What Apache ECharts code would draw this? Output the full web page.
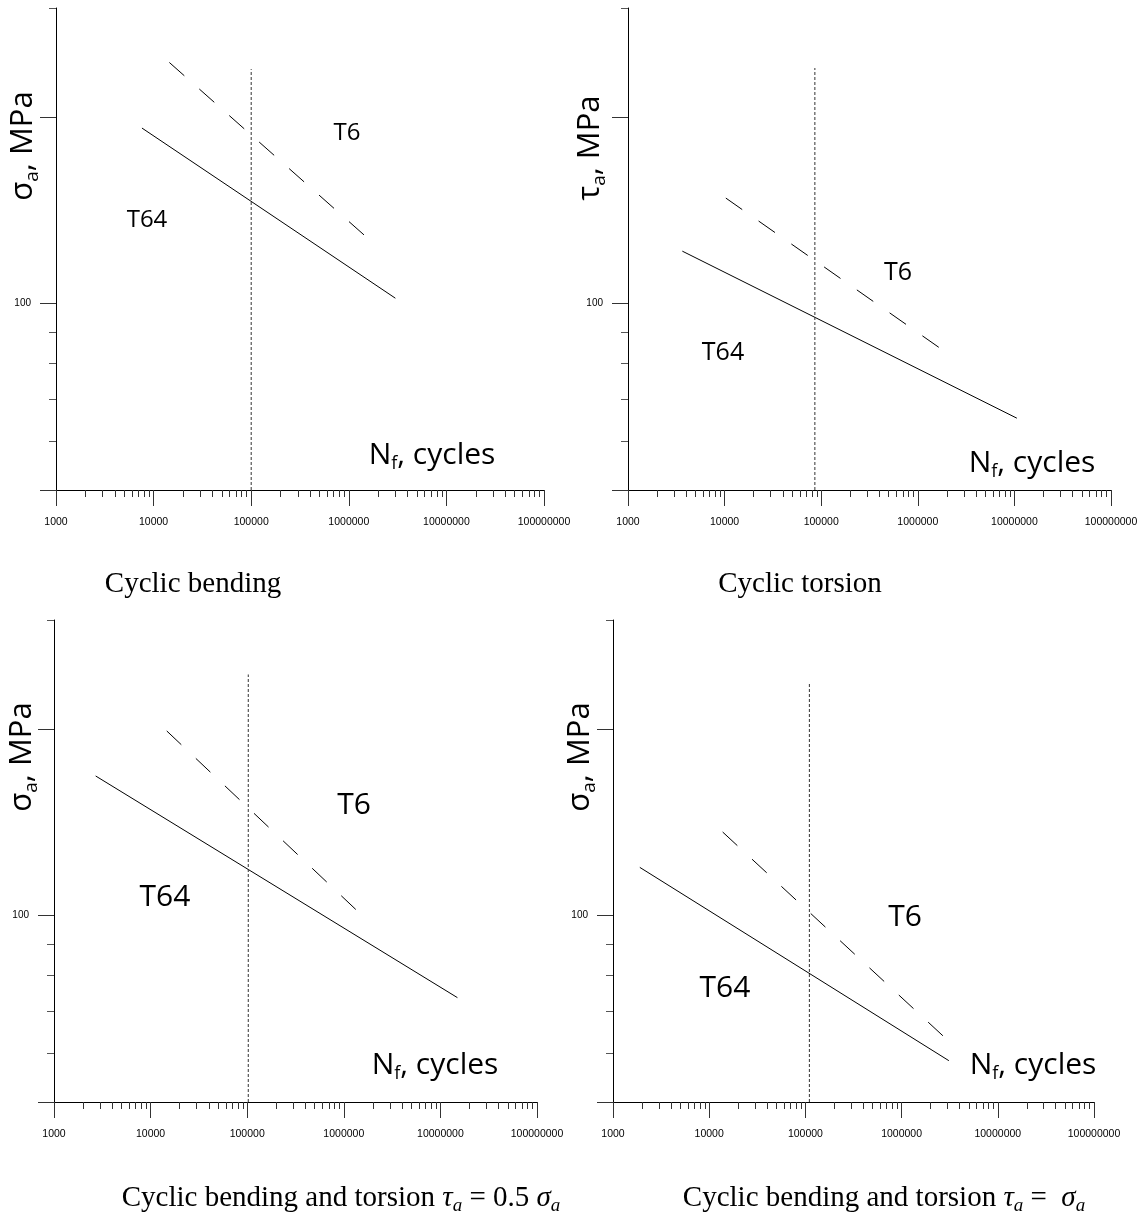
<!DOCTYPE html>
<html>
<head>
<meta charset="utf-8">
<title>S-N curves T6 / T64</title>
<script src="https://cdn.jsdelivr.net/npm/echarts@6/dist/echarts.min.js"></script>
<style>
  html, body { margin: 0; background: #fff; }
  #chart { width: 1141px; height: 1217px; }
</style>
</head>
<body>
<div id="chart"></div>
<script>
// axis ranges and ticks
const xMin = 1000, xMax = 100000000
const yMin = 50, yMax = 300
const xMajor = [1000, 10000, 100000, 1000000, 10000000, 100000000]
const xMantissa = [2, 3, 4, 5, 6, 7, 8, 9]
const yMajor = [50, 100, 200]
const yMinor = [60, 70, 80, 90, 300]
const yLabels = [100]

// one entry per panel: bending, torsion, bending+torsion 0.5, bending+torsion 1
const t64N = [[7600, 3000000], [3650, 10600000], [2700, 15000000], [1900, 3100000]]
const t64S = [[192, 102], [121.5, 65.3], [168, 73.7], [119.6, 58.3]]
const t6N = [[14500, 1700000], [10300, 1700000], [14700, 1450000], [13800, 2950000]]
const t6S = [[245, 126], [148, 84.7], [198.6, 101], [136.4, 63.1]]
const limitN = [100000, 86000, 102600, 110000]
const limitTop = [239, 240, 245, 237]

const yTitles = ['σ', 'τ', 'σ', 'σ']
const captions = [
  '{n|Cyclic bending}',
  '{n|Cyclic torsion}',
  '{n|Cyclic bending and torsion }{i|τ}{is|a}{n| = 0.5 }{i|σ}{is|a}',
  '{n|Cyclic bending and torsion }{i|τ}{is|a}{n| =  }{i|σ}{is|a}'
]

// layout (px)
const grids = [
  {left: 56, top: 8, width: 488, height: 482},
  {left: 628, top: 8, width: 483, height: 482},
  {left: 54, top: 620, width: 483, height: 482},
  {left: 613, top: 620, width: 481, height: 482}
]
const t64Pos = [[147, 220], [723, 353], [165, 897], [725, 988]]
const t6Pos = [[347, 133], [898, 273], [354, 805], [905, 917]]
const tagSize = [24, 25, 30, 30]
const nfPos = [[432, 455], [1032, 463], [435, 1065], [1033, 1065]]
const titlePos = [[23, 146], [590, 148], [22, 757], [580, 757]]
const capPos = [[193, 584], [800, 584], [341, 1198], [884, 1198]]

const xMinor = []
for (const d of xMajor.slice(0, -1)) for (const m of xMantissa) xMinor.push(d * m)

const sans = '"Open Sans", sans-serif'
const serif = '"Liberation Serif", serif'

const xAxis = [], yAxis = [], series = [], graphic = []

grids.forEach((g, i) => {
  const base = {type: 'log', logBase: 10, gridIndex: i, splitLine: {show: false}, minorTick: {show: false}}
  xAxis.push({
    ...base, min: xMin, max: xMax, position: 'bottom',
    axisLine: {onZero: false, lineStyle: {color: '#000', width: 1}},
    axisTick: {inside: false, length: 16, customValues: xMajor, lineStyle: {color: '#333'}},
    axisLabel: {customValues: xMajor, margin: 27, fontSize: 10.5, fontFamily: 'Liberation Sans', color: '#000',
      formatter: v => String(Math.round(v))}
  }, {
    ...base, min: xMin, max: xMax, position: 'bottom',
    axisLine: {show: false},
    axisTick: {inside: false, length: 7, customValues: xMinor, lineStyle: {color: '#333'}},
    axisLabel: {show: false}
  })
  yAxis.push({
    ...base, min: yMin, max: yMax, position: 'left',
    axisLine: {onZero: false, lineStyle: {color: '#000', width: 1}},
    axisTick: {inside: false, length: 16, customValues: yMajor, lineStyle: {color: '#333'}},
    axisLabel: {customValues: yLabels, margin: 25, fontSize: 10, fontFamily: 'Liberation Sans', color: '#000',
      formatter: v => String(Math.round(v))}
  }, {
    ...base, min: yMin, max: yMax, position: 'left',
    axisLine: {show: false},
    axisTick: {inside: false, length: 7, customValues: yMinor, lineStyle: {color: '#555'}},
    axisLabel: {show: false}
  })

  const common = {type: 'line', xAxisIndex: 2 * i, yAxisIndex: 2 * i, symbol: 'none', silent: true}
  series.push({
    ...common, name: 'T64',
    lineStyle: {color: '#000', width: 1},
    data: t64N[i].map((n, k) => [n, t64S[i][k]])
  }, {
    ...common, name: 'T6',
    lineStyle: {color: '#000', width: 1, type: [20, 20]},
    data: t6N[i].map((n, k) => [n, t6S[i][k]])
  }, {
    ...common, name: 'limit',
    lineStyle: {color: '#333', width: 1, type: [3, 2]},
    data: [[limitN[i], yMin], [limitN[i], limitTop[i]]]
  })

  const txt = (pos, text, rich, extra) => ({
    type: 'text', x: pos[0], y: pos[1], silent: true, ...extra,
    style: {text, rich, align: 'center', verticalAlign: 'middle', fill: '#000'}
  })
  const tag = {t: {fontSize: tagSize[i], fontFamily: sans, fill: '#000'}}
  graphic.push(
    txt(t64Pos[i], '{t|T64}', tag),
    txt(t6Pos[i], '{t|T6}', tag),
    txt(nfPos[i], '{m|N}{s|f}{m|, cycles}', {
      m: {fontSize: 30, fontFamily: sans, lineHeight: 36, fill: '#000'},
      s: {fontSize: 18, fontFamily: sans, lineHeight: 18, verticalAlign: 'bottom', fill: '#000'}
    }),
    txt(titlePos[i], '{m|' + yTitles[i] + '}{s|a}{m|, MPa}', {
      m: {fontSize: 31, fontFamily: sans, lineHeight: 38, fill: '#000'},
      s: {fontSize: 19, fontFamily: sans, lineHeight: 19, verticalAlign: 'bottom', fill: '#000'}
    }, {rotation: Math.PI / 2}),
    txt(capPos[i], captions[i], {
      n: {fontSize: 29, fontFamily: serif, lineHeight: 34, fill: '#000'},
      i: {fontSize: 29, fontFamily: serif, fontStyle: 'italic', lineHeight: 34, fill: '#000'},
      is: {fontSize: 19, fontFamily: serif, fontStyle: 'italic', lineHeight: 19, verticalAlign: 'bottom', fill: '#000'}
    })
  )
})

const chart = echarts.init(document.getElementById('chart'), null, {renderer: 'canvas'})
chart.setOption({
  animation: false,
  backgroundColor: '#fff',
  grid: grids.map(g => ({...g, containLabel: false})),
  xAxis, yAxis, series, graphic
})
</script>
</body>
</html>
